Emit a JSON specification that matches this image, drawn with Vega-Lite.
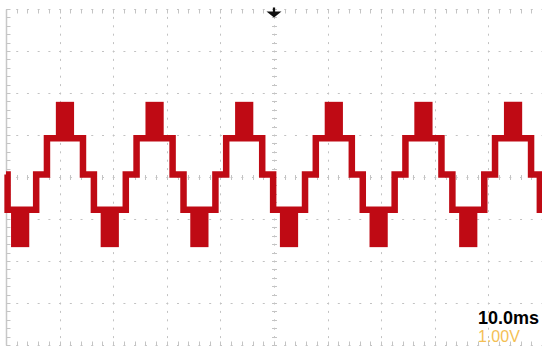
{
  "$schema": "https://vega.github.io/schema/vega-lite/v6.json",
  "width": 536,
  "height": 336,
  "autosize": {"type": "none"},
  "padding": {"left": 6, "top": 9, "right": 0, "bottom": 2},
  "background": "#ffffff",
  "view": {"stroke": null},
  "datasets": {
    "trace": [
      {"t": 0, "v": 0.06},
      {"t": 0.3, "v": -0.78},
      {"t": 5.63, "v": 0.06},
      {"t": 7.64, "v": 0.92},
      {"t": 14.36, "v": 0.06},
      {"t": 16.4, "v": -0.78},
      {"t": 22.35, "v": 0.06},
      {"t": 24.36, "v": 0.92},
      {"t": 31.08, "v": 0.06},
      {"t": 33.12, "v": -0.78},
      {"t": 39.07, "v": 0.06},
      {"t": 41.08, "v": 0.92},
      {"t": 47.8, "v": 0.06},
      {"t": 49.84, "v": -0.78},
      {"t": 55.79, "v": 0.06},
      {"t": 57.8, "v": 0.92},
      {"t": 64.52, "v": 0.06},
      {"t": 66.56, "v": -0.78},
      {"t": 72.51, "v": 0.06},
      {"t": 74.52, "v": 0.92},
      {"t": 81.24, "v": 0.06},
      {"t": 83.28, "v": -0.78},
      {"t": 89.23, "v": 0.06},
      {"t": 91.24, "v": 0.92},
      {"t": 97.96, "v": 0.06},
      {"t": 99.6, "v": -0.78},
      {"t": 100, "v": -0.78}
    ],
    "bursts": [
      {"t0": 9.3, "t1": 12.7, "v0": 0.92, "v1": 1.79},
      {"t0": 26.02, "t1": 29.42, "v0": 0.92, "v1": 1.79},
      {"t0": 42.74, "t1": 46.14, "v0": 0.92, "v1": 1.79},
      {"t0": 59.46, "t1": 62.86, "v0": 0.92, "v1": 1.79},
      {"t0": 76.18, "t1": 79.58, "v0": 0.92, "v1": 1.79},
      {"t0": 92.9, "t1": 96.3, "v0": 0.92, "v1": 1.79},
      {"t0": 0.94, "t1": 4.34, "v0": -0.78, "v1": -1.67},
      {"t0": 17.66, "t1": 21.06, "v0": -0.78, "v1": -1.67},
      {"t0": 34.38, "t1": 37.78, "v0": -0.78, "v1": -1.67},
      {"t0": 51.1, "t1": 54.5, "v0": -0.78, "v1": -1.67},
      {"t0": 67.82, "t1": 71.22, "v0": -0.78, "v1": -1.67},
      {"t0": 84.54, "t1": 87.94, "v0": -0.78, "v1": -1.67}
    ],
    "timebase": [{"label": "10.0ms"}],
    "voltscale": [{"label": "1.00V"}],
    "trigger": [{"label": "T"}]
  },
  "resolve": {"axis": {"x": "independent", "y": "independent"}},
  "layer": [
    {
      "data": {"name": "bursts"},
      "mark": {"type": "rect", "color": "#bf0a14"},
      "encoding": {
        "x": {
          "field": "t0", "type": "quantitative",
          "scale": {"domain": [0, 100], "nice": false, "zero": false},
          "axis": {
            "orient": "bottom", "values": [0, 10, 20, 30, 40, 50, 60, 70, 80, 90, 100],
            "labels": false, "ticks": false, "domain": false, "title": null,
            "grid": true, "gridColor": "#c2c2c2", "gridWidth": 1,
            "gridDash": [2, 6.4], "gridDashOffset": 1
          }
        },
        "x2": {"field": "t1"},
        "y": {
          "field": "v0", "type": "quantitative",
          "scale": {"domain": [-4, 4], "nice": false, "zero": false},
          "axis": {
            "orient": "left", "values": [-4, -3, -2, -1, 0, 1, 2, 3, 4],
            "labels": false, "ticks": false, "title": null,
            "domain": true, "domainColor": "#c8c8c8", "domainWidth": 1.5,
            "grid": true, "gridColor": "#c2c2c2", "gridWidth": 1,
            "gridDash": [2, 8.72], "gridDashOffset": 1
          }
        },
        "y2": {"field": "v1"}
      }
    },
    {
      "data": {"name": "trace"},
      "mark": {
        "type": "line", "color": "#bf0a14", "strokeWidth": 6.5,
        "interpolate": "step-after", "strokeJoin": "miter", "strokeCap": "butt"
      },
      "encoding": {
        "x": {
          "field": "t", "type": "quantitative",
          "axis": {
            "orient": "bottom", "offset": -170.5,
            "values": [0, 2, 4, 6, 8, 10, 12, 14, 16, 18, 20, 22, 24, 26, 28, 30, 32, 34, 36, 38, 40, 42, 44, 46, 48, 50, 52, 54, 56, 58, 60, 62, 64, 66, 68, 70, 72, 74, 76, 78, 80, 82, 84, 86, 88, 90, 92, 94, 96, 98, 100],
            "labels": false, "domain": false, "grid": false, "title": null,
            "ticks": true, "tickSize": 5, "tickColor": "#c4c4c4", "tickWidth": 1
          }
        },
        "y": {
          "field": "v", "type": "quantitative",
          "axis": {
            "orient": "left", "offset": -270.5,
            "values": [-4, -3.8, -3.6, -3.4, -3.2, -3, -2.8, -2.6, -2.4, -2.2, -2, -1.8, -1.6, -1.4, -1.2, -1, -0.8, -0.6, -0.4, -0.2, 0, 0.2, 0.4, 0.6, 0.8, 1, 1.2, 1.4, 1.6, 1.8, 2, 2.2, 2.4, 2.6, 2.8, 3, 3.2, 3.4, 3.6, 3.8, 4],
            "labels": false, "domain": false, "grid": false, "title": null,
            "ticks": true, "tickSize": 5, "tickColor": "#c4c4c4", "tickWidth": 1
          }
        }
      }
    },
    {
      "data": {"name": "timebase"},
      "mark": {
        "type": "text", "font": "Liberation Sans", "fontSize": 18, "fontWeight": "bold",
        "color": "#000000", "align": "left", "baseline": "alphabetic"
      },
      "encoding": {
        "text": {"field": "label"},
        "x": {
          "datum": 88.06, "type": "quantitative",
          "axis": {
            "orient": "top", "offset": -4,
            "values": [0, 2, 4, 6, 8, 10, 12, 14, 16, 18, 20, 22, 24, 26, 28, 30, 32, 34, 36, 38, 40, 42, 44, 46, 48, 50, 52, 54, 56, 58, 60, 62, 64, 66, 68, 70, 72, 74, 76, 78, 80, 82, 84, 86, 88, 90, 92, 94, 96, 98, 100],
            "labels": false, "domain": false, "grid": false, "title": null,
            "ticks": true, "tickSize": 4, "tickColor": "#c4c4c4", "tickWidth": 1
          }
        },
        "y": {
          "datum": -3.5, "type": "quantitative",
          "axis": {
            "orient": "left", "offset": -4,
            "values": [-4, -3.8, -3.6, -3.4, -3.2, -3, -2.8, -2.6, -2.4, -2.2, -2, -1.8, -1.6, -1.4, -1.2, -1, -0.8, -0.6, -0.4, -0.2, 0, 0.2, 0.4, 0.6, 0.8, 1, 1.2, 1.4, 1.6, 1.8, 2, 2.2, 2.4, 2.6, 2.8, 3, 3.2, 3.4, 3.6, 3.8, 4],
            "labels": false, "domain": false, "grid": false, "title": null,
            "ticks": true, "tickSize": 4, "tickColor": "#c4c4c4", "tickWidth": 1
          }
        }
      }
    },
    {
      "data": {"name": "voltscale"},
      "mark": {
        "type": "text", "font": "Liberation Sans", "fontSize": 16,
        "color": "#f4bf55", "align": "left", "baseline": "alphabetic"
      },
      "encoding": {
        "text": {"field": "label"},
        "x": {
          "datum": 88.06, "type": "quantitative",
          "axis": {
            "orient": "bottom", "offset": -4,
            "values": [0, 2, 4, 6, 8, 10, 12, 14, 16, 18, 20, 22, 24, 26, 28, 30, 32, 34, 36, 38, 40, 42, 44, 46, 48, 50, 52, 54, 56, 58, 60, 62, 64, 66, 68, 70, 72, 74, 76, 78, 80, 82, 84, 86, 88, 90, 92, 94, 96, 98, 100],
            "labels": false, "domain": false, "grid": false, "title": null,
            "ticks": true, "tickSize": 4, "tickColor": "#c4c4c4", "tickWidth": 1
          }
        },
        "y": {"datum": -3.92, "type": "quantitative", "axis": null}
      }
    },
    {
      "data": {"name": "trigger"},
      "mark": {
        "type": "point", "filled": true, "color": "#111111", "opacity": 1,
        "shape": "M-0.15,-0.6 L0.15,-0.6 L0.15,-0.05 L1,-0.05 L0,0.75 L-1,-0.05 L-0.15,-0.05 Z",
        "size": 225
      },
      "encoding": {
        "x": {"datum": 50, "type": "quantitative", "axis": null},
        "y": {"datum": 3.93, "type": "quantitative", "axis": null}
      }
    }
  ]
}
